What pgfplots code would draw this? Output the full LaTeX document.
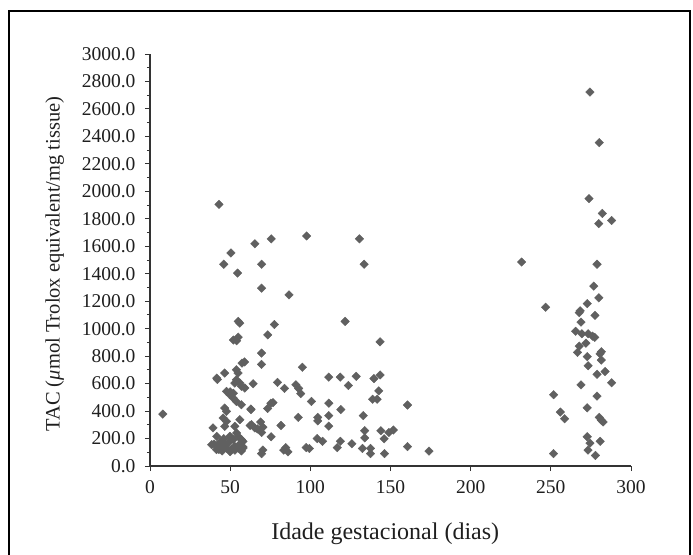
\documentclass[border=0pt]{standalone}
\usepackage{fontspec}
\setmainfont{Liberation Serif}
\usepackage{pgfplots}
\pgfplotsset{compat=1.18}
\definecolor{markgray}{RGB}{96,96,96}
\begin{document}
\begin{tikzpicture}[x=1pt,y=1pt]
\useasboundingbox (0,0) rectangle (693,554);
\draw[line width=2pt,black] (9,-5) -- (9,543) -- (690,543) -- (690,-5);
\begin{axis}[
  at={(150pt,88pt)}, anchor=south west,
  scale only axis, width=481pt, height=412pt,
  xmin=0, xmax=300, ymin=0, ymax=3000,
  axis lines*=left,
  axis line style={black!80, line width=1.2pt},
  xtick={0,50,...,300},
  ytick={0,200,...,3000},
  minor y tick num=1,
  tick align=outside,
  major tick length=5pt, minor tick length=3pt,
  tick style={black!80, line width=0.9pt},
  /pgf/number format/assume math mode=true,
  ticklabel style={font=\fontsize{19.5}{21}\selectfont, text=black!88},
  yticklabel style={xshift=-6pt, /pgf/number format/.cd, fixed, fixed zerofill, precision=1, 1000 sep={}},
  xticklabel style={yshift=-6pt, /pgf/number format/.cd, 1000 sep={}},
  xlabel={Idade gestacional (dias)},
  ylabel={TAC ({\itshape μ}mol Trolox equivalent/mg tissue)},
  label style={text=black!88},
  xlabel style={font=\fontsize{24}{26}\selectfont, at={(axis description cs:0.489,-0.165)}, anchor=center},
  ylabel style={font=\fontsize{20.5}{24}\selectfont, at={(axis description cs:-0.198,0.49)}, anchor=center},
  clip=false,
]
\addplot[only marks, mark=square*, mark size=3pt, mark options={rotate=45, fill=markgray, draw=markgray}] coordinates {
(8,378)
(43,1905) (46,1469) (50.5,1551) (54.6,1405) (65.4,1618) (75.6,1654) (69.6,1469) (69.6,1295)
(86.7,1246) (97.7,1675) (130.6,1654) (133.6,1469)
(55,1053) (56,1040) (52,917) (54,912) (55,938) (77.6,1030) (73.4,955) (69.6,822) (69.6,740)
(121.7,1053) (143.5,904) (95,719)
(59,758) (57.4,749) (53.9,701) (54.9,677) (41.6,640) (42,630) (46.6,677) (53.9,628) (56,604)
(52.9,604) (64.3,599) (59.1,568) (57,580)
(47.7,543) (49.8,519) (51.9,495) (53.9,470) (50,540) (52,530) (57,446) (46.6,422) (47.7,398)
(62.9,415) (45.6,350) (47.7,325) (46.6,289) (56,337) (52.9,289) (63.3,301) (65.4,277) (39.3,277)
(41.6,216) (44.7,180) (42.6,156) (49.8,216) (51.9,192) (55,216) (57,192) (54,240)
(38.5,155) (41.5,119) (44.6,155) (47.7,131) (49.8,107) (52.9,143) (56,155) (58.1,131)
(40,160) (43,120) (45,110) (47,150) (50,105) (53,115) (55,130) (56,160) (57,110) (58,140)
(44,175) (49,170) (51,125) (46,200) (58,180)
(69,321) (70.4,283) (67,270) (69.6,244) (62.4,295) (63,411) (73.4,419) (75.4,457) (76.7,462)
(75.6,213) (81.7,295) (79.5,609) (83.9,565) (91,591) (92.7,565) (94,527) (92.5,354) (100.7,470)
(104.6,354) (104.6,329) (104.3,200) (107.6,180)
(111.5,647) (118.7,647) (128.6,653) (123.7,586) (139.7,637) (143.5,663) (142.7,547) (138.8,486)
(141.6,486) (160.6,444) (111.5,457) (119,411) (111.5,367) (111.5,290) (133,367) (133.9,257)
(133.9,205) (144,257) (151.8,262) (149,244) (146,198) (118.7,180) (116.8,134) (125.9,162)
(132.5,128) (137.5,128) (137.5,90) (146.3,90) (160.6,141) (174,108) (97.4,134) (99.4,128)
(84.7,134) (86,103) (83.4,116) (70.4,116) (69.6,90)
(231.8,1485) (246.8,1156) (251.7,519) (251.7,90) (255.9,393) (258.6,344)
(274.4,2723) (280.2,2355) (273.8,1947) (282.1,1839) (279.9,1765) (287.9,1788) (278.8,1469)
(276.8,1310) (279.9,1225) (272.7,1182) (268.3,1130) (267.7,1117) (277.5,1097) (268.8,1048)
(265.5,981) (269.3,963) (273.2,963) (276,945) (277.4,937) (267.7,873) (271.9,894) (266.6,827)
(281.5,832) (280.7,817) (272.7,796) (281.5,771) (273.2,730) (283.8,688) (278.8,668) (287.9,606)
(268.8,591) (278.8,509) (272.7,424) (280.2,354) (281.5,334) (282.6,321) (272.7,213) (274.4,167)
(280.8,180) (273.2,116) (277.8,77)
};
\end{axis}
\end{tikzpicture}
\end{document}
